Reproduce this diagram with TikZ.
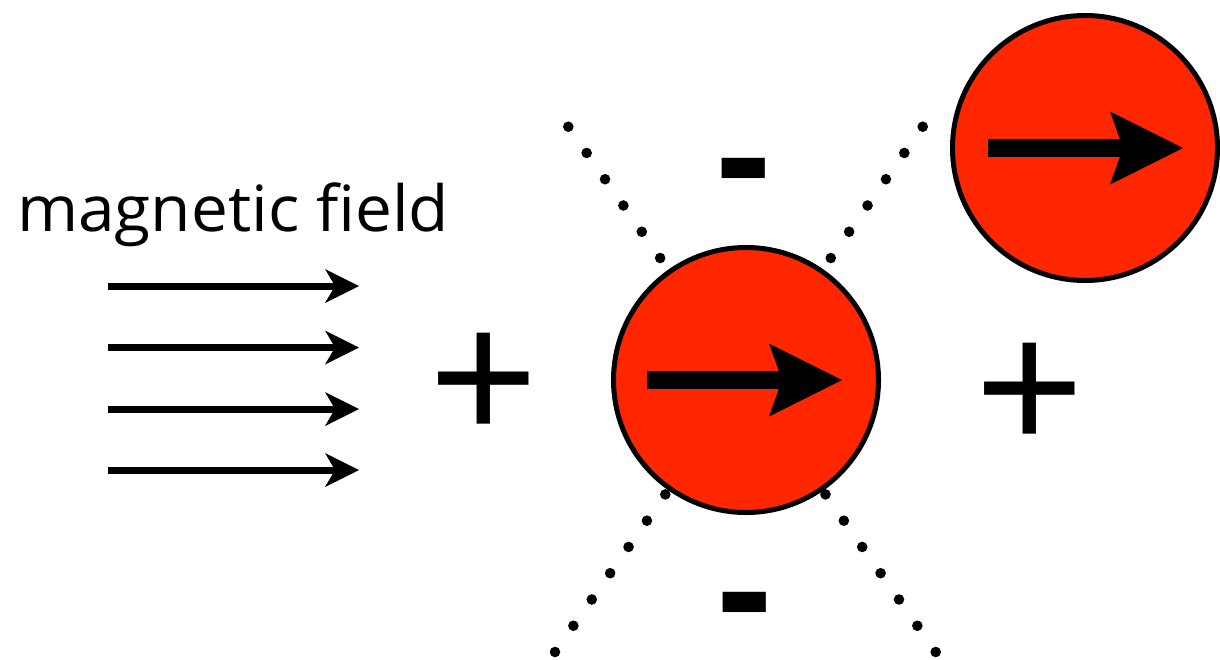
\documentclass[tikz,border=0pt]{standalone}
\usepackage{fontspec}
\usetikzlibrary{arrows.meta,calc}
\newfontfamily\labelfont{Open Sans}
\newfontfamily\signfont{Liberation Sans Bold}
\newfontfamily\plusfont{Liberation Sans}
\definecolor{ballred}{HTML}{FF2600}
\tikzset{
  fieldarrow/.style={line width=7pt, -{Stealth[length=34pt, width=34pt, inset=10pt, line width=0pt]}},
  spinarrow/.style={line width=18pt, -{Stealth[length=73pt, width=73pt, inset=13pt, line width=0pt]}},
  ball/.style={circle, draw=black, line width=5pt, fill=ballred, minimum size=265pt, inner sep=0pt},
  minussign/.style={inner sep=0pt, font=\signfont\fontsize{170}{170}\selectfont},
  plussign/.style={inner sep=0pt, font=\plusfont\fontsize{186}{186}\selectfont},
  dot/.style={fill=black}
}
\begin{document}
\begin{tikzpicture}[x=1pt, y=-1pt]
\useasboundingbox (0,0) rectangle (1220,659);
% label
\node[anchor=north west, inner sep=0pt] (label) at (17,183)
  {\resizebox*{432pt}{64pt}{\labelfont magnetic field}};
% field arrows
\foreach \i/\y in {1/286, 2/347.5, 3/409, 4/470} {
  \coordinate (fs\i) at (108,\y);
  \coordinate (fe\i) at (359,\y);
  \draw[fieldarrow] (fs\i) -- (fe\i);
}
% dotted diagonals (behind the ball)
\coordinate (d1a) at (568.3,126.7);
\coordinate (d1b) at (935.7,652);
\coordinate (d2a) at (922.7,126.7);
\coordinate (d2b) at (555,652);
\foreach \k in {0,...,20} {
  \fill[dot] ($(d1a)!\k/20!(d1b)$) circle (5.3);
  \fill[dot] ($(d2a)!\k/20!(d2b)$) circle (5.3);
}
% balls
\node[ball] (c1) at (746,380) {};
\node[ball] (c2) at (1085,148) {};
\draw[spinarrow] ([xshift=-99pt]c1.center) -- ([xshift=96pt]c1.center);
\draw[spinarrow] ([xshift=-97pt]c2.center) -- ([xshift=98pt]c2.center);
% signs
\node[plussign, anchor=north] (plusl) at (483.5,333) {+};
\node[plussign, anchor=north] (plusr) at (1030,343.3) {+};
\node[minussign, anchor=north] (minust) at (744,158) {-};
\node[minussign, anchor=north] (minusb) at (745,592) {-};
\end{tikzpicture}
\end{document}
